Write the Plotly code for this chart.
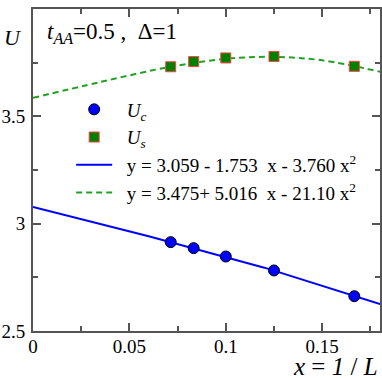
import plotly.graph_objects as go

# x = 1/L for L = 14, 12, 10, 8, 6
x_pts = [1/14, 1/12, 1/10, 1/8, 1/6]
u_c = [2.914, 2.886, 2.847, 2.782, 2.662]
u_s = [3.731, 3.755, 3.772, 3.779, 3.733]

# fitted curves as drawn in the picture
fit_c_x = [0.0, 0.06, 0.12, 0.18]
fit_c_y = [3.078, 2.941, 2.795, 2.625]
fit_s_x = [0.0, 0.035, 0.0714, 0.1, 0.125, 0.15, 0.18]
fit_s_y = [3.586, 3.660, 3.731, 3.768, 3.777, 3.761, 3.708]

fit_c_label = "  y = 3.059 - 1.753  x - 3.760 x<sup>2</sup>"
fit_s_label = "  y = 3.475+ 5.016  x - 21.10 x<sup>2</sup>"

SERIF = "Liberation Serif"
AXIS_COL = "#555555"

fig = go.Figure()

# lines first so the markers sit on top
fig.add_trace(go.Scatter(x=fit_c_x, y=fit_c_y, mode='lines', name=fit_c_label,
                         line=dict(color='#0000ff', width=2),
                         legendrank=3))
fig.add_trace(go.Scatter(x=fit_s_x, y=fit_s_y, mode='lines', name=fit_s_label,
                         line=dict(color='#22a022', width=2, dash='6px,4px', shape='spline'),
                         legendrank=4))
fig.add_trace(go.Scatter(x=x_pts, y=u_c, mode='markers', name="  <i>U</i><sub><i>c</i></sub>",
                         marker=dict(color='#0000ff', size=11, symbol='circle',
                                     line=dict(color='black', width=1)),
                         legendrank=1))
fig.add_trace(go.Scatter(x=x_pts, y=u_s, mode='markers', name="  <i>U</i><sub><i>s</i></sub>",
                         marker=dict(color='#008000', size=10, symbol='square',
                                     line=dict(color='#ff4040', width=1)),
                         legendrank=2))

axis_common = dict(showline=True, linecolor=AXIS_COL, linewidth=2, mirror='ticks',
                   ticks='inside', ticklen=8, tickwidth=1.5, tickcolor=AXIS_COL,
                   showgrid=False, zeroline=False, automargin=False,
                   tickfont=dict(family=SERIF, size=19, color='black'))

fig.update_xaxes(range=[0, 0.18], tickvals=[0, 0.05, 0.1, 0.15],
                 ticktext=['0', '0.05', '0.1', '0.15'],
                 minor=dict(dtick=0.025, tick0=0, ticks='inside', ticklen=5,
                            tickcolor=AXIS_COL, tickwidth=1.5, showgrid=False),
                 ticklabelstandoff=-3, **axis_common)
fig.update_yaxes(range=[2.5, 4], tickvals=[2.5, 3, 3.5, 4],
                 ticktext=['2.5', '3', '3.5', '4'],
                 minor=dict(dtick=0.25, tick0=2.5, ticks='inside', ticklen=5,
                            tickcolor=AXIS_COL, tickwidth=1.5, showgrid=False),
                 ticklabelstandoff=2, **axis_common)

fig.add_annotation(text="<i>t</i><sub><i>AA</i></sub>=0.5 ,  Δ=1",
                   xref='paper', yref='paper', x=0.034, y=0.975,
                   xanchor='left', yanchor='top', showarrow=False,
                   font=dict(family=SERIF, size=23, color='black'))
fig.add_annotation(text="<i>U</i>", xref='paper', yref='paper',
                   x=-0.058, y=0.91, xanchor='center', yanchor='middle',
                   showarrow=False, font=dict(family=SERIF, size=22, color='black'))
fig.add_annotation(text="<i>x</i> = <i>1</i> / <i>L</i>", xref='paper', yref='paper',
                   x=1.0, y=-0.11, xanchor='right', yanchor='middle',
                   showarrow=False, font=dict(family=SERIF, size=25, color='black'))

fig.update_layout(
    width=382, height=378,
    margin=dict(l=33, r=2, t=9, b=47),
    plot_bgcolor='white', paper_bgcolor='white',
    showlegend=True,
    legend=dict(x=0.11, y=0.747, xanchor='left', yanchor='top', itemwidth=36,
                bgcolor='rgba(0,0,0,0)', tracegroupgap=0,
                font=dict(family=SERIF, size=19, color='black')),
)

fig.write_html("out.html", config={'displayModeBar': False},
               post_script="document.body.style.margin='0';")
